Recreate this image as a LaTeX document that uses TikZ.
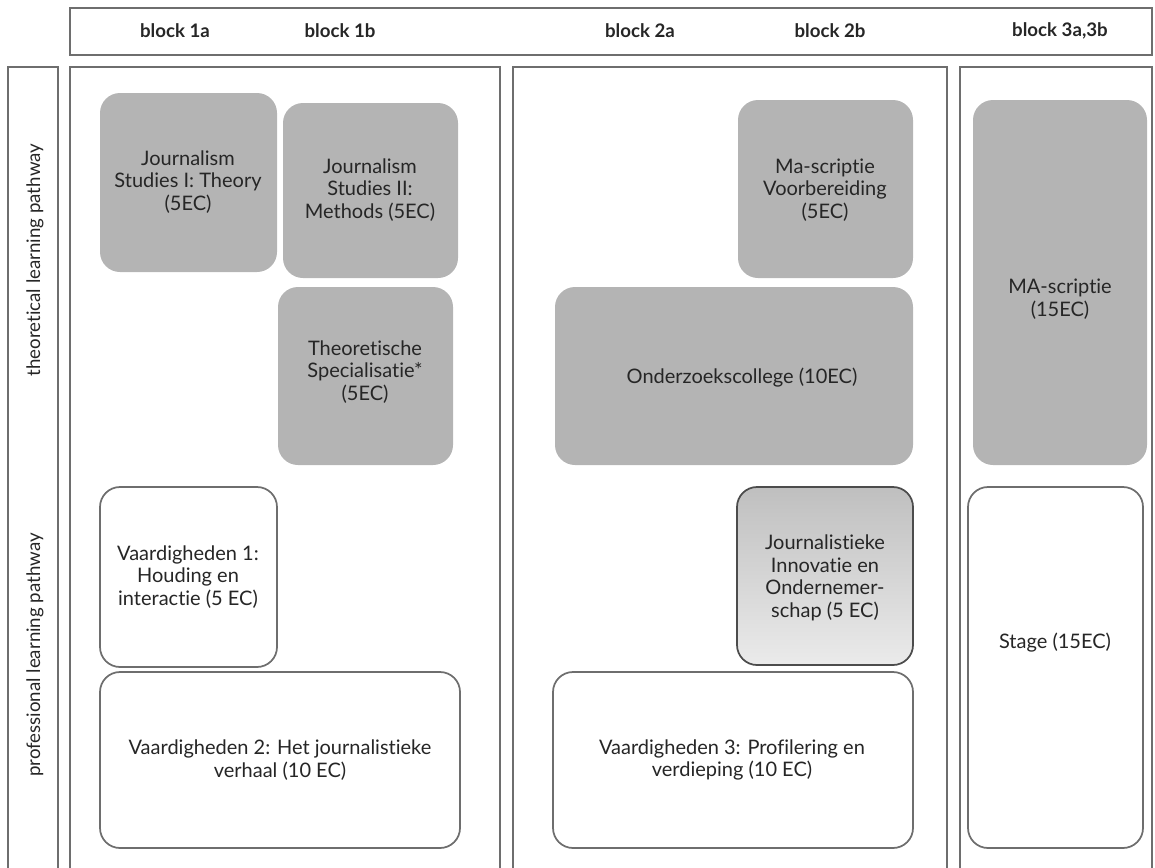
\documentclass[tikz,border=0pt]{standalone}
\usepackage{fontspec}
\setmainfont[Ligatures={NoCommon}]{Lato}
\usetikzlibrary{fit}
\definecolor{boxgray}{HTML}{B4B4B4}
\definecolor{txtgray}{HTML}{262626}
\definecolor{linegray}{HTML}{6E6E6E}
\tikzset{
  frame/.style={draw=linegray, line width=1.6pt},
  gbox/.style={fill=boxgray, draw=none, rounded corners=15pt, inner sep=0pt},
  wbox/.style={fill=white, draw=linegray, line width=1.3pt, rounded corners=15pt, inner sep=0pt},
  gradbox/.style={top color=boxgray!85, bottom color=white!92!black, draw=black!70, line width=1.3pt, rounded corners=15pt, inner sep=0pt},
  txt/.style={text=txtgray, align=center, font=\fontsize{15}{17}\selectfont, inner sep=0pt},
  head/.style={text=txtgray, font=\bfseries\fontsize{14}{16}\selectfont, inner sep=0pt},
  lane/.style={text=txtgray, font=\fontsize{14}{16}\selectfont, rotate=90, inner sep=0pt}
}
\begin{document}
\begin{tikzpicture}[x=0.75pt,y=-0.75pt]
\useasboundingbox (0,0) rectangle (1155,867);
\begin{scope}
\clip (0,0) rectangle (1155,867);
% header
\node[frame, fit={(70,8)(1152,55)}, inner sep=0pt] (header) {};
\node[head] (b1a) at (175,31) {block 1a};
\node[head] (b1b) at (340,31) {block 1b};
\node[head] (b2a) at (640,31) {block 2a};
\node[head] (b2b) at (830,31) {block 2b};
\node[head] (b3) at (1060,31) {block 3a,3b};
% lane label column and panels
\node[frame, fit={(8,67)(58,880)}, inner sep=0pt] (lanecol) {};
\node[lane] (ltheo) at (35,260) {theoretical learning pathway};
\node[lane] (lprof) at (35,655) {professional learning pathway};
\node[frame, fit={(70,67)(500,880)}, inner sep=0pt] (p1) {};
\node[frame, fit={(513,67)(947,880)}, inner sep=0pt] (p2) {};
\node[frame, fit={(960,67)(1152,880)}, inner sep=0pt] (p3) {};
\end{scope}
% gray boxes
\node[gbox, fit={(100,93)(277,272)}] (js1) {};
\node[txt] (js1t) at (188,182) {Journalism\\Studies I: Theory\\(5EC)};
\node[gbox, fit={(283,103)(458,278)}] (js2) {};
\node[txt] (js2t) at (370,190) {Journalism\\Studies II:\\Methods (5EC)};
\node[gbox, fit={(278,287)(453,465)}] (ts) {};
\node[txt] (tst) at (365,372) {Theoretische\\Specialisatie*\\(5EC)};
\node[gbox, fit={(738,100)(913,278)}] (mv) {};
\node[txt] (mvt) at (825,190) {Ma-scriptie\\Voorbereiding\\(5EC)};
\node[gbox, fit={(555,287)(913,465)}] (oc) {};
\node[txt] (oct) at (742,378) {Onderzoekscollege (10EC)};
\node[gbox, fit={(973,100)(1147,465)}] (ma) {};
\node[txt] (mat) at (1060,299) {MA-scriptie\\(15EC)};
% white boxes
\node[wbox, fit={(100,487)(277,667)}] (v1) {};
\node[txt] (v1t) at (188,577) {Vaardigheden 1:\\Houding en\\interactie (5 EC)};
\node[wbox, fit={(100,672)(460,848)}] (v2) {};
\node[txt] (v2t) at (280,760) {Vaardigheden 2: Het journalistieke\\verhaal (10 EC)};
\node[gradbox, fit={(737,487)(913,665)}] (ji) {};
\node[txt] (jit) at (825,578) {Journalistieke\\Innovatie en\\Ondernemer-\\schap (5 EC)};
\node[wbox, fit={(553,672)(913,848)}] (v3) {};
\node[txt] (v3t) at (732,760) {Vaardigheden 3: Profilering en\\verdieping (10 EC)};
\node[wbox, fit={(968,487)(1143,848)}] (st) {};
\node[txt] (stt) at (1055,643) {Stage (15EC)};
\end{tikzpicture}
\end{document}
